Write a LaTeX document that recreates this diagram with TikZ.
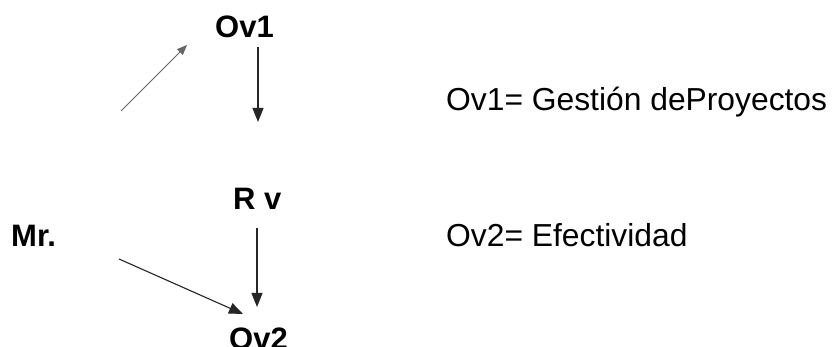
\documentclass[tikz,border=0pt]{standalone}
\usepackage{fontspec}
\setmainfont{Liberation Sans}
\usetikzlibrary{arrows.meta}
\tikzset{
  x=1pt, y=-1pt,
  lbl/.style={inner sep=0pt, anchor=base west, font=\bfseries\fontsize{31}{36}\selectfont},
  legend/.style={inner sep=0pt, anchor=base west, font=\fontsize{31.8}{36}\selectfont},
  thinarrow/.style={draw=black!60, line width=0.8pt, -{Triangle[length=10pt,width=8pt]}},
  mainarrow/.style={draw=black!85, line width=1.1pt, -{Triangle[length=14pt,width=11pt]}}
}
\begin{document}
\begin{tikzpicture}
\clip (0,0) rectangle (833,347);
\fill[white] (0,0) rectangle (833,347);
\node[lbl] (ov1) at (215,38) {Ov1};
\node[lbl] (rv) at (233,210) {R v};
\node[lbl] (mr) at (11,247) {Mr.};
\node[lbl] (ov2) at (229,350) {Ov2};
\node[legend] (leg1) at (446,111) {Ov1= Gestión deProyectos};
\node[legend] (leg2) at (446,247) {Ov2= Efectividad};
\coordinate (a1s) at (121,111);
\coordinate (a1e) at (187,45);
\coordinate (a2s) at (258,47);
\coordinate (a2e) at (258,122);
\coordinate (a3s) at (257,228);
\coordinate (a3e) at (257,307);
\coordinate (a4s) at (119,259);
\coordinate (a4e) at (243,314);
\draw[thinarrow] (a1s) -- (a1e);
\draw[mainarrow] (a2s) -- (a2e);
\draw[mainarrow] (a3s) -- (a3e);
\draw[mainarrow] (a4s) -- (a4e);
\end{tikzpicture}
\end{document}
